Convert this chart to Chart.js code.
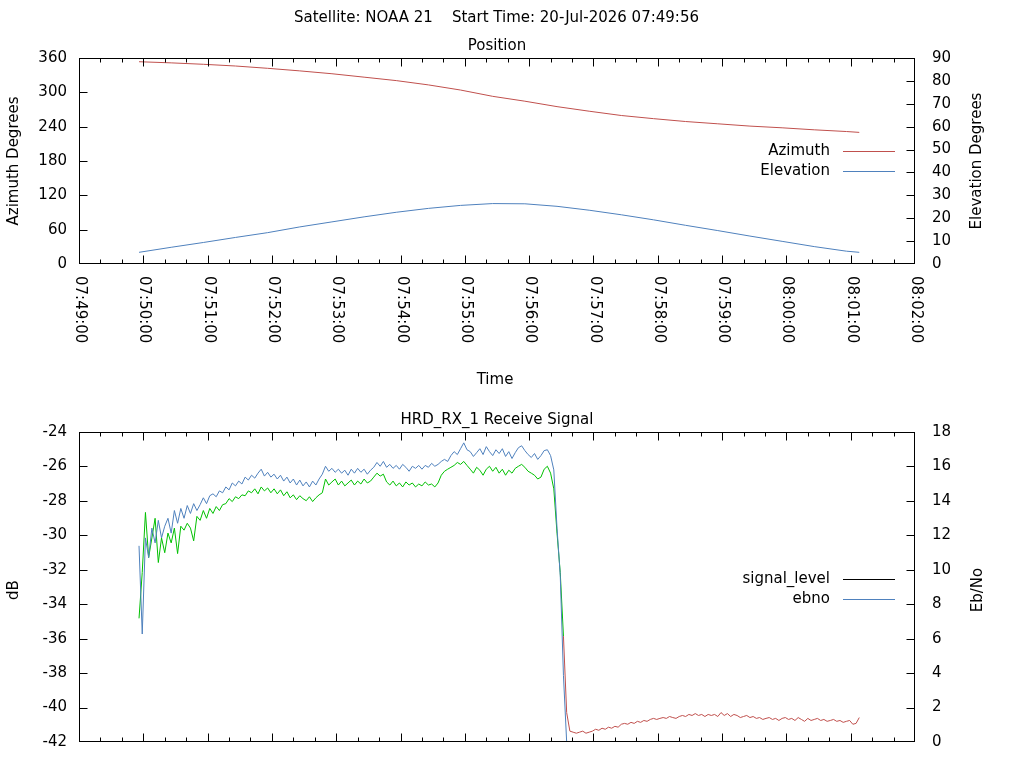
<!DOCTYPE html>
<html>
<head>
<meta charset="utf-8">
<title>NOAA 21 pass</title>
<script src="https://cdn.jsdelivr.net/npm/chart.js@4.4.1/dist/chart.umd.min.js"></script>
<style>
  html, body { margin: 0; padding: 0; background: #fff; }
  #wrap { position: relative; width: 1024px; height: 768px; }
  canvas { position: absolute; left: 0; }
  #pos { top: 0; }
  #sig { top: 390px; }
</style>
</head>
<body>
<div id="wrap">
  <canvas id="pos" width="1024" height="390"></canvas>
  <canvas id="sig" width="1024" height="378"></canvas>
</div>
<script>
const FONT = 'DejaVu Sans';
const RED = '#c0504d', BLUE = '#4f81bd', GREEN = '#00c000';

// x axis tick labels (one per minute)
const timeTicks = ['07:49:00', '07:50:00', '07:51:00', '07:52:00', '07:53:00', '07:54:00', '07:55:00',
  '07:56:00', '07:57:00', '07:58:00', '07:59:00', '08:00:00', '08:01:00', '08:02:00'];
const MINOR_STEP = 20; // seconds between small ticks

// Position, one sample every 30 s
const posTimes = ['07:49:56', '07:50:26', '07:50:56', '07:51:26', '07:51:56', '07:52:26', '07:52:56', '07:53:26',
  '07:53:56', '07:54:26', '07:54:56', '07:55:26', '07:55:56', '07:56:26', '07:56:56', '07:57:26',
  '07:57:56', '07:58:26', '07:58:56', '07:59:26', '07:59:56', '08:00:26', '08:00:56', '08:01:08'];
const azimuth = [353.5, 351.5, 349.0, 346.0, 342.0, 337.5, 332.5, 326.5, 320.5, 313.0, 304.0, 293.0,
  284.5, 275.0, 267.0, 259.5, 254.0, 249.0, 245.0, 241.0, 238.0, 234.5, 231.5, 230.0];
const elevation = [5.1, 7.3, 9.4, 11.6, 13.7, 16.2, 18.4, 20.6, 22.6, 24.3, 25.6, 26.4,
  26.3, 25.2, 23.5, 21.5, 19.3, 16.9, 14.6, 12.2, 9.9, 7.6, 5.6, 5.1];

// Receive signal, one sample every 3 s starting at sigStart
const sigStart = '07:49:56';
const sigStep = 3;
const signalLevel = [
  -34.82, -32.15, -28.67, -31.29, -30.15, -29.01, -31.58, -30.15, -31.01, -29.87,
  -30.44, -29.58, -31.06, -29.47, -29.70, -29.30, -29.58, -30.32, -28.90, -29.13,
  -28.56, -29.01, -28.44, -28.73, -28.33, -28.56, -28.22, -28.16, -27.87, -28.04,
  -27.76, -27.87, -27.65, -27.70, -27.42, -27.53, -27.30, -27.59, -27.19, -27.42,
  -27.25, -27.53, -27.30, -27.59, -27.36, -27.70, -27.47, -27.82, -27.65, -27.93,
  -27.70, -27.87, -27.99, -27.76, -28.04, -27.82, -27.65, -27.53, -26.73, -27.08,
  -26.90, -26.73, -27.08, -26.85, -27.13, -26.96, -26.79, -27.08, -26.85, -27.02,
  -26.73, -26.96, -26.85, -26.62, -26.39, -26.56, -26.45, -26.90, -27.08, -26.85,
  -27.13, -26.96, -27.19, -26.90, -27.08, -26.96, -27.19, -27.02, -27.13, -26.90,
  -27.08, -27.02, -27.19, -26.96, -26.51, -26.28, -26.16, -26.05, -25.94, -25.77,
  -25.88, -25.71, -25.94, -26.16, -26.39, -26.05, -26.22, -26.51, -26.16, -25.99,
  -26.28, -26.05, -26.39, -26.16, -26.51, -26.22, -26.39, -26.11, -25.99, -25.88,
  -26.05, -26.28, -26.39, -26.51, -26.73, -26.62, -26.16, -25.99, -26.39, -27.30,
  -29.87, -32.15, -35.85, -40.29, -41.37, -41.43, -41.49, -41.43, -41.37, -41.49,
  -41.43, -41.37, -41.26, -41.32, -41.20, -41.26, -41.14, -41.20, -41.09, -41.14,
  -40.97, -40.92, -40.97, -40.86, -40.92, -40.80, -40.86, -40.75, -40.80, -40.69,
  -40.63, -40.69, -40.63, -40.58, -40.63, -40.52, -40.58, -40.63, -40.52, -40.46,
  -40.52, -40.40, -40.46, -40.35, -40.46, -40.40, -40.52, -40.40, -40.46, -40.40,
  -40.52, -40.29, -40.46, -40.35, -40.52, -40.40, -40.46, -40.58, -40.52, -40.46,
  -40.58, -40.52, -40.63, -40.58, -40.69, -40.63, -40.58, -40.69, -40.63, -40.75,
  -40.63, -40.58, -40.69, -40.63, -40.75, -40.58, -40.69, -40.80, -40.63, -40.75,
  -40.69, -40.63, -40.75, -40.69, -40.80, -40.75, -40.69, -40.80, -40.75, -40.86,
  -40.80, -40.75, -40.97, -40.92, -40.58];
// Eb/No until the lock is lost
const ebno = [
  11.39, 6.27, 11.85, 10.71, 12.42, 11.56, 12.87, 11.85, 12.53, 12.99,
  12.13, 13.44, 12.70, 13.56, 12.99, 13.73, 13.27, 13.84, 13.44, 13.78,
  14.18, 13.84, 14.30, 14.41, 14.24, 14.58, 14.47, 14.81, 14.64, 15.04,
  14.87, 15.15, 14.98, 15.38, 15.21, 15.49, 15.32, 15.61, 15.84, 15.44,
  15.66, 15.38, 15.55, 15.27, 15.49, 15.15, 15.38, 15.04, 15.27, 14.92,
  15.21, 14.87, 15.10, 14.81, 15.15, 14.92, 15.27, 15.55, 16.01, 15.72,
  15.89, 15.66, 15.84, 15.61, 15.78, 15.49, 15.84, 15.61, 15.89, 15.66,
  15.84, 15.55, 15.78, 15.95, 16.23, 16.01, 16.29, 15.95, 16.12, 15.89,
  16.06, 15.84, 16.12, 15.95, 15.72, 16.01, 15.89, 16.06, 15.84, 16.06,
  15.95, 16.18, 16.01, 16.12, 16.29, 16.41, 16.29, 16.63, 16.86, 16.69,
  17.03, 17.37, 16.97, 16.86, 16.58, 16.80, 17.03, 16.69, 17.15, 16.86,
  16.63, 16.97, 16.75, 17.03, 16.58, 16.86, 16.46, 16.80, 17.09, 17.20,
  16.92, 16.69, 16.52, 16.75, 16.41, 16.63, 16.92, 16.97, 16.63, 15.80,
  12.42, 9.68, 3.87, 0];

function toSec(hms) {
  const [h, m, s] = hms.split(':').map(Number);
  return h * 3600 + m * 60 + s;
}

const xMin = toSec(timeTicks[0]);
const xMax = toSec(timeTicks[timeTicks.length - 1]);
const sigT0 = toSec(sigStart);
const sigPoints = arr => arr.map((v, i) => ({ x: sigT0 + i * sigStep, y: v }));

// texts and key of each plot, looked up by canvas id
const frames = {
  pos: {
    xLabels: true,
    texts: [
      { text: 'Satellite: NOAA 21    Start Time: 20-Jul-2026 07:49:56', x: 294, y: 18, align: 'left' },
      { text: 'Position', x: 497, y: 46 },
      { text: 'Time', x: 495, y: 380 },
      { text: 'Azimuth Degrees', x: 14, y: 161, vertical: true },
      { text: 'Elevation Degrees', x: 977, y: 161, vertical: true }
    ],
    keyTop: 151,
    key: [{ label: 'Azimuth', color: RED }, { label: 'Elevation', color: BLUE }]
  },
  sig: {
    xLabels: false,
    texts: [
      { text: 'HRD_RX_1 Receive Signal', x: 497, y: 30 },
      { text: 'dB', x: 14, y: 200, vertical: true },
      { text: 'Eb/No', x: 978, y: 200, vertical: true }
    ],
    keyTop: 189,
    key: [{ label: 'signal_level', color: '#000000' }, { label: 'ebno', color: BLUE }]
  }
};

// gnuplot-like frame: box, inward ticks, texts and key
const gnuplotFrame = {
  id: 'gnuplotFrame',
  afterDraw(chart) {
    const f = frames[chart.canvas.id];
    const { ctx, chartArea: a, scales } = chart;
    const L = Math.round(a.left) + 0.5, R = Math.round(a.right) - 0.5;
    const T = Math.round(a.top) + 0.5, B = Math.round(a.bottom) - 0.5;
    ctx.save();
    ctx.strokeStyle = '#000';
    ctx.lineWidth = 1;
    ctx.beginPath();
    const xs = scales.x;
    for (let v = xMin; v <= xMax; v += MINOR_STEP) {
      const px = Math.min(R, Math.max(L, Math.round(xs.getPixelForValue(v)) + 0.5));
      const len = (v - xMin) % 60 === 0 ? 8 : 4;
      ctx.moveTo(px, B); ctx.lineTo(px, B - len);
      ctx.moveTo(px, T); ctx.lineTo(px, T + len);
    }
    scales.y.ticks.forEach(t => {
      const py = Math.min(B, Math.max(T, Math.round(scales.y.getPixelForValue(t.value)) + 0.5));
      ctx.moveTo(L, py); ctx.lineTo(L + 8, py);
    });
    scales.y2.ticks.forEach(t => {
      const py = Math.min(B, Math.max(T, Math.round(scales.y2.getPixelForValue(t.value)) + 0.5));
      ctx.moveTo(R, py); ctx.lineTo(R - 8, py);
    });
    ctx.stroke();
    ctx.strokeRect(L, T, R - L, B - T);

    ctx.font = '15px "' + FONT + '"';
    ctx.fillStyle = '#000';
    if (f.xLabels) {
      timeTicks.forEach(lbl => {
        ctx.save();
        ctx.translate(xs.getPixelForValue(toSec(lbl)) + 1, a.bottom + 12);
        ctx.rotate(Math.PI / 2);
        ctx.textAlign = 'left';
        ctx.textBaseline = 'middle';
        ctx.fillText(lbl, 0, 0);
        ctx.restore();
      });
    }
    f.texts.forEach(t => {
      ctx.save();
      ctx.translate(t.x, t.y);
      if (t.vertical) ctx.rotate(-Math.PI / 2);
      ctx.textAlign = t.align || 'center';
      ctx.textBaseline = 'middle';
      ctx.fillText(t.text, 0, 0);
      ctx.restore();
    });
    f.key.forEach((k, i) => {
      const y = Math.round(f.keyTop + i * 19.5);
      ctx.fillStyle = '#000';
      ctx.textAlign = 'right';
      ctx.textBaseline = 'middle';
      ctx.fillText(k.label, 830, y);
      ctx.fillStyle = k.color;
      ctx.fillRect(843, y, 52, 1);
    });
    ctx.restore();
  }
};

function xScale(height) {
  return {
    type: 'linear', min: xMin, max: xMax,
    ticks: { display: false, stepSize: 60 },
    grid: { display: false, drawTicks: false }, border: { display: false },
    afterFit: s => { s.height = height; }
  };
}
function yScale(position, min, max, step, width, pad) {
  return {
    type: 'linear', position, min, max,
    ticks: { stepSize: step, color: '#000', padding: pad, font: { family: FONT, size: 15 } },
    grid: { display: false, drawTicks: false }, border: { display: false },
    afterFit: s => { s.width = width; }
  };
}
const common = {
  responsive: false,
  animation: false,
  elements: { point: { radius: 0 }, line: { borderWidth: 1, tension: 0 } },
};

new Chart(document.getElementById('pos'), {
  type: 'line',
  data: {
    datasets: [
      { label: 'Azimuth', data: posTimes.map((t, i) => ({ x: toSec(t), y: azimuth[i] })),
        yAxisID: 'y', borderColor: RED },
      { label: 'Elevation', data: posTimes.map((t, i) => ({ x: toSec(t), y: elevation[i] })),
        yAxisID: 'y2', borderColor: BLUE }
    ]
  },
  options: {
    ...common,
    layout: { padding: { top: 58, left: 0, right: 0, bottom: 0 } },
    scales: {
      x: xScale(126),
      y: yScale('left', 0, 360, 60, 79, 12),
      y2: yScale('right', 0, 90, 10, 109, 17)
    },
    plugins: { legend: { display: false }, tooltip: { enabled: false } }
  },
  plugins: [gnuplotFrame]
});

new Chart(document.getElementById('sig'), {
  type: 'line',
  data: {
    datasets: [
      { label: 'signal_level', data: sigPoints(signalLevel), yAxisID: 'y', borderColor: GREEN, order: 2,
        segment: { borderColor: c => (ebno[c.p1DataIndex] > 0 ? GREEN : RED) } },
      { label: 'ebno', data: sigPoints(ebno), yAxisID: 'y2', borderColor: BLUE, order: 1 }
    ]
  },
  options: {
    ...common,
    layout: { padding: { top: 42, left: 0, right: 0, bottom: 0 } },
    scales: {
      x: xScale(20),
      y: yScale('left', -42, -24, 2, 79, 12),
      y2: yScale('right', 0, 18, 2, 109, 17)
    },
    plugins: { legend: { display: false }, tooltip: { enabled: false } }
  },
  plugins: [gnuplotFrame]
});
</script>
</body>
</html>
